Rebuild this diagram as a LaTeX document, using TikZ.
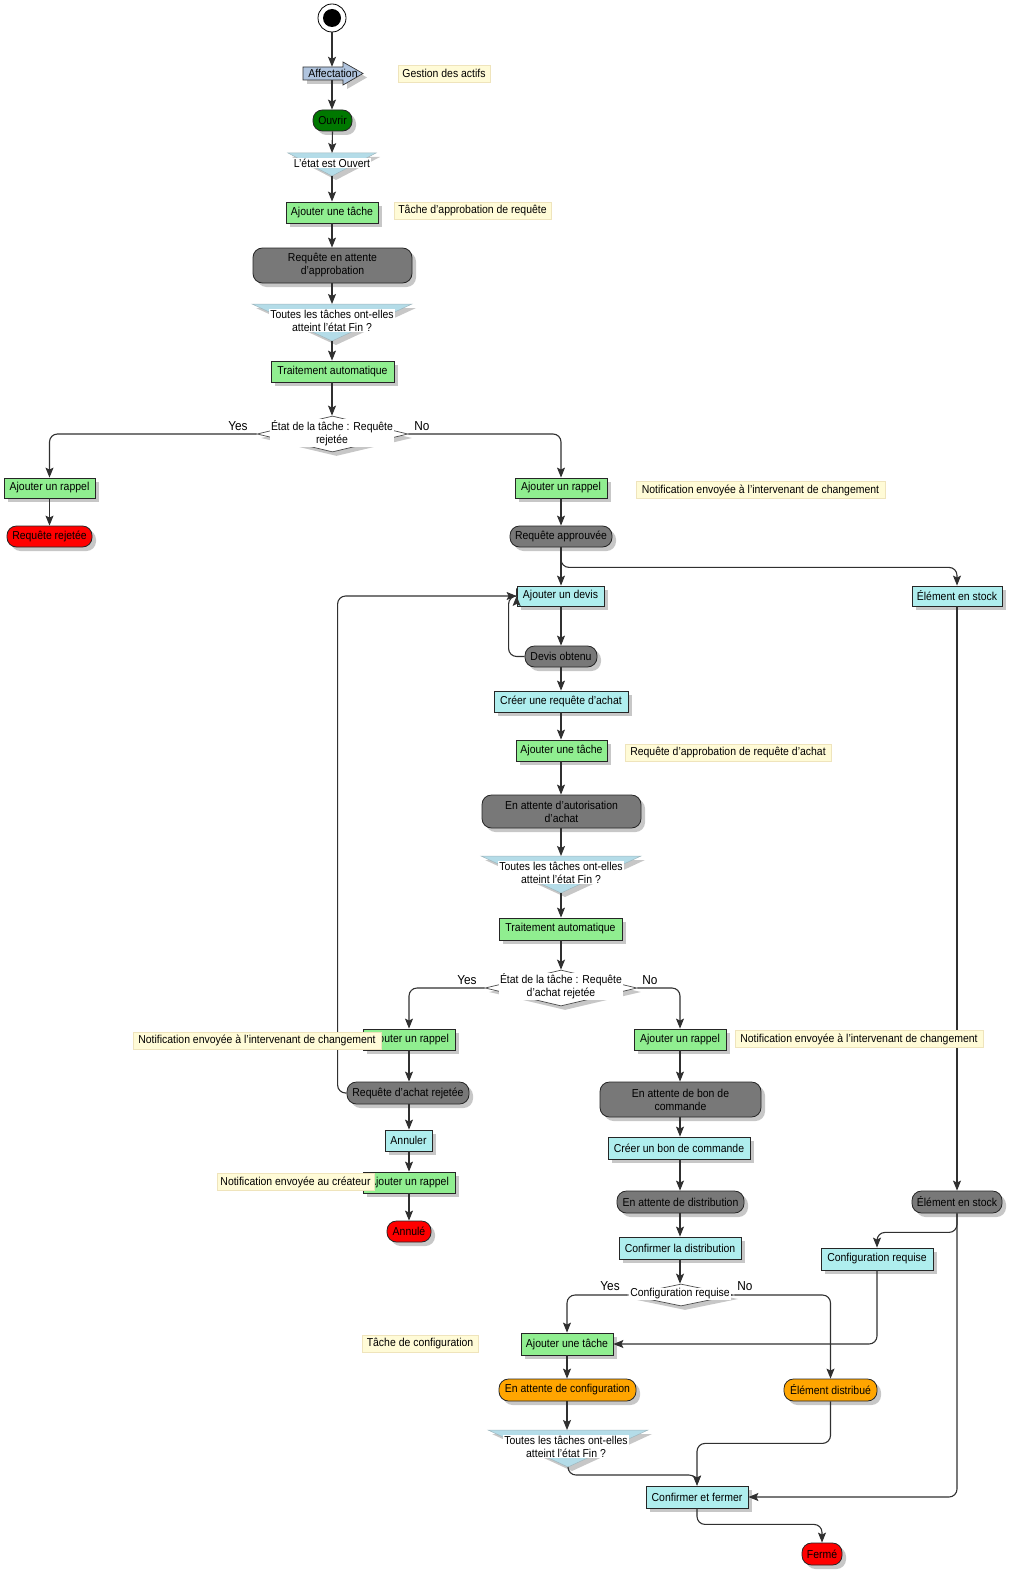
\documentclass[tikz,border=0pt]{standalone}
\usepackage{fontspec}
\setmainfont{Liberation Sans}[FakeStretch=0.91]
\usetikzlibrary{arrows.meta,shapes.geometric,shadows}
\definecolor{actgreen}{HTML}{90EE90}
\definecolor{actcyan}{HTML}{AFEEEE}
\definecolor{stgray}{HTML}{787878}
\definecolor{stred}{HTML}{FF0000}
\definecolor{storange}{HTML}{FFA500}
\definecolor{stgreen}{HTML}{007800}
\definecolor{notefill}{HTML}{FFFBD7}
\definecolor{notedraw}{HTML}{EFE4BC}
\definecolor{decblue}{HTML}{B4DCE8}
\definecolor{affblue}{HTML}{B0C4DE}
\definecolor{linec}{HTML}{303030}
\newcommand\mkfunnel[5]{%
  \path[funnel] (#2-#4,#3) -- (#2+#4,#3) -- (#2,#5) -- cycle;
  \coordinate (#1t) at (#2,#3);
  \coordinate (#1a) at (#2,#5);
}
\begin{document}
\begin{tikzpicture}[x=1pt,y=-1pt,
  every node/.style={font=\fontsize{11.5}{13}\selectfont, inner sep=1.5pt, align=center},
  shad/.style={drop shadow={shadow xshift=4pt,shadow yshift=-4pt,fill=black!22,opacity=1}},
  wh/.style 2 args={minimum width=#1, minimum height=#2},
  box/.style={rectangle, draw=black!85, line width=0.8pt, shad},
  actg/.style={box, fill=actgreen},
  actc/.style={box, fill=actcyan},
  state/.style={rectangle, rounded corners=9.5pt, draw=black!85, line width=0.8pt, shad},
  stg/.style={state, fill=stgray},
  str/.style={state, fill=stred},
  sto/.style={state, fill=storange},
  note/.style={rectangle, fill=notefill, draw=notedraw, line width=0.6pt, minimum height=17, inner sep=2pt},
  conn/.style={draw=linec, line width=1.1pt, rounded corners=8pt, -{Stealth[length=10pt,width=8pt,inset=2pt]}},
  dtext/.style={fill=white, inner sep=1pt},
  funnel/.style={fill=decblue, draw=decblue!60!gray, line width=0.5pt, shad},
  dia/.style={diamond, draw=black!70, fill=white, line width=0.7pt, inner sep=0, shad},
  lbl/.style={font=\fontsize{13}{14}\selectfont, inner sep=0}
]
\useasboundingbox (0,0) rectangle (1009,1573);

% ---------- top part ----------
\node[circle, draw=black, line width=0.8pt, fill=white, minimum size=28, inner sep=0] (start) at (332,18) {};
\fill[black] (start.center) circle (9);

\path[fill=affblue, draw=black!80, line width=0.7pt, shad]
  (303,67) -- (343,67) -- (343,62) -- (363,73.5) -- (343,85) -- (343,80) -- (303,80) -- cycle;
\node[wh={60}{13}, inner sep=0] (aff) at (333,73.5) {Affectation};

\node[state, fill=stgreen, wh={39}{21}] (ouvrir) at (332.5,120.5) {Ouvrir};

\mkfunnel{fa}{332}{153}{44}{176}
\node[dtext] (fatxt) at (332,163) {L'état est Ouvert};

\node[actg, wh={92}{21}] (t1) at (332,212.5) {Ajouter une tâche};
\node[stg, wh={159}{35}] (wait1) at (332.5,265.5) {Requête en attente\\d'approbation};

\mkfunnel{fb}{332}{304}{80}{341}
\node[dtext] (fbtxt) at (332,320.5) {Toutes les tâches ont-elles\\atteint l'état Fin ?};

\node[actg, wh={123}{21}] (auto1) at (332.5,371.5) {Traitement automatique};

\node[dia, wh={151}{36}] (dia1) at (332.5,434) {};
\node[dtext] (dia1txt) at (332,433) {État de la tâche : Requête\\rejetée};
\node[lbl] (yes1) at (238,426) {Yes};
\node[lbl] (no1) at (422,426) {No};

\node[actg, wh={91}{20}] (r1) at (49.5,488) {Ajouter un rappel};
\node[str, wh={85}{21}] (rej) at (49.5,536.5) {Requête rejetée};
\node[actg, wh={92}{20}] (r2) at (561,488) {Ajouter un rappel};
\node[stg, wh={102}{21}] (appr) at (561,536.5) {Requête approuvée};

% ---------- middle ----------
\node[actc, wh={87}{20}] (devis) at (560.5,596) {Ajouter un devis};
\node[actc, wh={90}{20}] (stock1) at (957,596) {Élément en stock};
\node[stg, wh={72}{21}] (devob) at (561,656.5) {Devis obtenu};
\node[actc, wh={134}{21}] (cra) at (561,701.5) {Créer une requête d'achat};
\node[actg, wh={91}{21}] (t2) at (561.5,750.5) {Ajouter une tâche};
\node[stg, wh={159}{33}] (wait2) at (561.5,811.5) {En attente d'autorisation\\d'achat};

\mkfunnel{fc}{561}{856}{80}{893}
\node[dtext] (fctxt) at (561,872.5) {Toutes les tâches ont-elles\\atteint l'état Fin ?};

\node[actg, wh={123}{22}] (auto2) at (560.5,929) {Traitement automatique};

\node[dia, wh={152}{36}] (dia2) at (561,988) {};
\node[dtext] (dia2txt) at (561,986.5) {État de la tâche : Requête\\d'achat rejetée};
\node[lbl] (yes2) at (467,980) {Yes};
\node[lbl] (no2) at (650,980) {No};

\node[actg, wh={92}{21}] (r3) at (409,1039.5) {Ajouter un rappel};
\node[stg, wh={122}{22}] (rrej) at (408,1093) {Requête d'achat rejetée};
\node[actc, wh={47}{21}] (ann) at (408.5,1140.5) {Annuler};
\node[actg, wh={92}{21}] (r4) at (409,1182.5) {Ajouter un rappel};
\node[str, wh={44}{21}] (annule) at (409,1231.5) {Annulé};

\node[actg, wh={92}{21}] (r5) at (680,1039.5) {Ajouter un rappel};
\node[stg, wh={161}{35}] (wait3) at (680.5,1099.5) {En attente de bon de\\commande};
\node[actc, wh={142}{22}] (cbc) at (679,1148) {Créer un bon de commande};
\node[stg, wh={127}{22}] (wdist) at (680.5,1202) {En attente de distribution};
\node[actc, wh={122}{22}] (cdist) at (680,1248) {Confirmer la distribution};

\node[stg, wh={90}{22}] (stock2) at (957,1202) {Élément en stock};
\node[actc, wh={112}{22}] (creq) at (877,1259) {Configuration requise};

% ---------- bottom ----------
\node[dia, wh={106}{22}] (dia3) at (681,1295) {};
\node[dtext] (dia3txt) at (680,1294) {Configuration requise};
\node[lbl] (yes3) at (610,1286) {Yes};
\node[lbl] (no3) at (745,1286) {No};

\node[actg, wh={92}{22}] (t3) at (567,1344) {Ajouter une tâche};
\node[sto, wh={137}{22}] (wconf) at (567.5,1390) {En attente de configuration};
\node[sto, wh={93}{22}] (edist) at (830.5,1390) {Élément distribué};

\mkfunnel{fd}{568}{1430}{80}{1467}
\node[dtext] (fdtxt) at (566,1446.5) {Toutes les tâches ont-elles\\atteint l'état Fin ?};

\node[actc, wh={102}{22}] (cf) at (697,1497) {Confirmer et fermer};
\node[str, wh={40}{22}] (ferme) at (822,1554) {Fermé};

% ---------- connectors ----------
\draw[conn] (start.south) -- (start.south |- aff.north);
\draw[conn] (start.south |- aff.south) -- (start.south |- ouvrir.north);
\draw[conn] (ouvrir.south) -- (fat);
\draw[conn] (faa) -- (t1.north);
\draw[conn] (t1.south) -- (t1.south |- wait1.north);
\draw[conn] (wait1.south -| t1.south) -- (fbt);
\draw[conn] (fba) -- (fba |- auto1.north);
\draw[conn] (fba |- auto1.south) -- (fba |- dia1.north);
\draw[conn] (dia1.west) -| (r1.north);
\draw[conn] (r1.south) -- (r1.south |- rej.north);
\draw[conn] (dia1.east) -| (r2.north);
\draw[conn] (r2.south) -- (appr.north);
\draw[conn] (appr.south) -- (appr.south |- devis.north);
\draw[conn] (appr.south) -- ++(0,20) -| (stock1.north);
\draw[conn] (devis.south -| devob.north) -- (devob.north);
\draw[conn] (devob.west) -- ++(-16,0) |- (devis.west);
\draw[conn] (devob.south) -- (cra.north);
\draw[conn] (cra.south) -- (cra.south |- t2.north);
\draw[conn] (cra.south |- t2.south) -- (cra.south |- wait2.north);
\draw[conn] (cra.south |- wait2.south) -- (fct);
\draw[conn] (fca) -- (fca |- auto2.north);
\draw[conn] (fca |- auto2.south) -- (dia2.north);
\draw[conn] (dia2.west) -| (r3.north);
\draw[conn] (dia2.east) -| (r5.north);
\draw[conn] (r3.south) -- (r3.south |- rrej.north);
\draw[conn] (rrej.west) -- ++(-9,0) |- (devis.west);
\draw[conn] (r3.south |- rrej.south) -- (r3.south |- ann.north);
\draw[conn] (r3.south |- ann.south) -- (r4.north);
\draw[conn] (r4.south) -- (annule.north);
\draw[conn] (r5.south) -- (r5.south |- wait3.north);
\draw[conn] (r5.south |- wait3.south) -- (r5.south |- cbc.north);
\draw[conn] (r5.south |- cbc.south) -- (r5.south |- wdist.north);
\draw[conn] (r5.south |- wdist.south) -- (cdist.north);
\draw[conn] (cdist.south) -- (cdist.south |- dia3.north);
\draw[conn] (dia3.west) -| (t3.north);
\draw[conn] (dia3.east) -| (edist.north);
\draw[conn] (t3.south) -- (t3.south |- wconf.north);
\draw[conn] (t3.south |- wconf.south) -- (t3.south |- fdt);
\draw[conn] (fda) -- ++(0,8) -| (cf.north);
\draw[conn] (edist.south) -- ++(0,42) -| (cf.north);
\draw[conn] (stock1.south) -- (stock2.north);
\draw[conn] (stock2.south) -- ++(0,19) -| (creq.north);
\draw[conn] (stock2.south) |- (cf.east);
\draw[conn] (creq.south) |- (t3.east);
\draw[conn] (cf.south) -- ++(0,16) -| (ferme.north);

% ---------- notes ----------
\node[note, wh={92}{17}] (n1) at (444,73.5) {Gestion des actifs};
\node[note, wh={157}{17}] (n2) at (472.5,210.5) {Tâche d'approbation de requête};
\node[note, wh={249}{17}] (n3) at (760.5,490) {Notification envoyée à l'intervenant de changement};
\node[note, wh={206}{17}] (n4) at (728,752.5) {Requête d'approbation de requête d'achat};
\node[note, wh={248}{17}] (n5) at (257,1040.5) {Notification envoyée à l'intervenant de changement};
\node[note, wh={248}{17}] (n6) at (859,1039) {Notification envoyée à l'intervenant de changement};
\node[note, wh={157}{17}] (n7) at (295.5,1182) {Notification envoyée au créateur};
\node[note, wh={116}{17}] (n8) at (420,1343.5) {Tâche de configuration};
\end{tikzpicture}
\end{document}
